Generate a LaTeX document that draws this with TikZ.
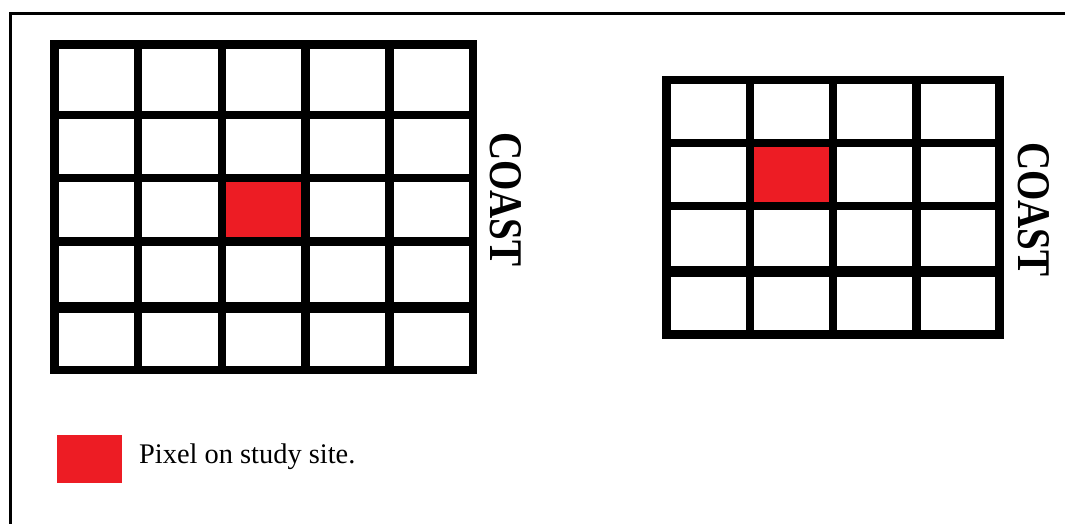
\documentclass[tikz,border=0pt]{standalone}
\usepackage{fontspec}
\setmainfont{Liberation Serif}
\usetikzlibrary{positioning}
\definecolor{siteRed}{HTML}{ED1C24}
\tikzset{
	cell/.style={draw, line width=8.5pt, inner sep=0pt, outer sep=0pt},
	site/.style={cell, fill=siteRed},
	coastline/.style={line width=11pt, shorten <=-4.25pt, shorten >=-4.25pt},
	coast/.style={font=\fontsize{39}{39}\selectfont\bfseries, rotate=-90, inner sep=0pt},
	key/.style={fill=siteRed, minimum width=65pt, minimum height=48pt, inner sep=0pt},
	frame/.style={line width=3pt}
}

\begin{document}
\begin{tikzpicture}[x=1pt, y=-1pt]
	\useasboundingbox (0,0) rectangle (1065,524);
	\clip (0,0) rectangle (1065,524);
	% --- Frame ---
	\draw[frame] (10.5,14) rectangle (1080,540);

	% --- Left grid (5 x 5) ---
	\foreach \r/\yc/\h in {1/79.75/70.5, 2/146.5/63, 3/209.75/63.5, 4/274.5/66, 5/338.75/62.5}
		\foreach \c in {1,...,5}
			\node[cell, minimum width=83.7pt, minimum height=\h pt] (L-\c-\r) at ({12.65+83.7*\c}, \yc) {};
	\node[site, minimum width=83.7pt, minimum height=63.5pt] (L-site) at (L-3-3) {}; % study site
	\draw[coastline] (L-1-4.south west) -- (L-5-4.south east);
	\node[coast] (coast-L) at (506,199.5) {\scalebox{1}[1.2]{COAST}};

	% --- Right grid (4 x 4) ---
	\foreach \r/\yc/\h in {1/111.5/63, 2/174.5/63, 3/238.75/65.5, 4/303/63}
		\foreach \c in {1,...,4}
			\node[cell, minimum width=83.25pt, minimum height=\h pt] (R-\c-\r) at ({624.9+83.25*\c}, \yc) {};
	\node[site, minimum width=83.25pt, minimum height=63pt] (R-site) at (R-2-2) {}; % study site
	\draw[coastline] (R-1-3.south west) -- (R-4-3.south east);
	\node[coast] (coast-R) at (1034,209.5) {\scalebox{1}[1.2]{COAST}};

	% --- Legend ---
	\node[key] (key) at (89.5,459) {};
	\node[anchor=base west, inner sep=0pt, font=\fontsize{28.4}{30}\selectfont] (key-text) at (139,463.5) {Pixel on study site.};
\end{tikzpicture}
\end{document}
